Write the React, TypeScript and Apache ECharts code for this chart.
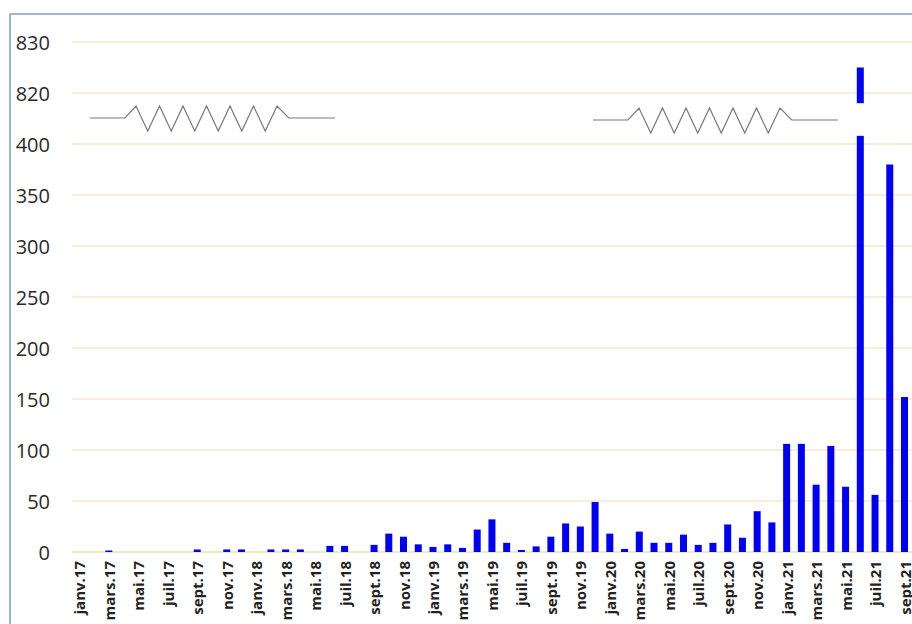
import React, { useEffect, useRef } from "react";
import * as echarts from "echarts";

const categories = [
  "janv.17", "févr.17", "mars.17", "avr.17", "mai.17", "juin.17", "juil.17", "août.17", "sept.17", "oct.17", "nov.17", "déc.17",
  "janv.18", "févr.18", "mars.18", "avr.18", "mai.18", "juin.18", "juil.18", "août.18", "sept.18", "oct.18", "nov.18", "déc.18",
  "janv.19", "févr.19", "mars.19", "avr.19", "mai.19", "juin.19", "juil.19", "août.19", "sept.19", "oct.19", "nov.19", "déc.19",
  "janv.20", "févr.20", "mars.20", "avr.20", "mai.20", "juin.20", "juil.20", "août.20", "sept.20", "oct.20", "nov.20", "déc.20",
  "janv.21", "févr.21", "mars.21", "avr.21", "mai.21", "juin.21", "juil.21", "août.21", "sept.21",
];

const values = [
  0, 0, 1.5, 0, 0, 0, 0, 0, 2.5, 0, 2.5, 2.5,
  0, 2.5, 2.5, 2.5, 0, 6, 6, 0, 7, 18, 15, 7.5,
  5, 7.5, 4, 22, 32, 9, 2, 5.5, 15, 28, 25, 49,
  18, 3, 20, 9, 9, 17, 7, 9, 27, 14, 40, 29,
  106, 106, 66, 104, 64, 825, 56, 380, 152,
];

const tickValues = [0, 50, 100, 150, 200, 250, 300, 350, 400, 820, 830];

// axis break: 400 -> 820 collapsed into one interval
const BREAK_LOW = 400;
const BREAK_HIGH = 820;
const toAxis = (v: number) => (v <= BREAK_LOW ? v : BREAK_LOW + 50 + (v - BREAK_HIGH) * 5);

function zigzag(x0: number, y: number): number[][] {
  const pts: number[][] = [[x0, y], [x0 + 35, y]];
  let x = x0 + 46;
  for (let i = 0; i < 13; i++) {
    pts.push([x, i % 2 === 0 ? y - 12 : y + 13]);
    x += 11.75;
  }
  pts.push([x, y]);
  pts.push([x0 + 245, y]);
  return pts;
}

export default function App() {
  const ref = useRef<HTMLDivElement>(null);
  useEffect(() => {
    document.body.style.margin = "0";
    const chart = echarts.init(ref.current!, null, { renderer: "svg" });
    const axisMax = toAxis(830);
    chart.setOption({
      animation: false,
      backgroundColor: "#ffffff",
      grid: { left: 72, right: 0, top: 42, bottom: 72 },
      xAxis: {
        type: "category",
        data: categories,
        axisTick: { show: false },
        axisLine: { lineStyle: { color: "#e6ecbc", width: 1.5 } },
        axisLabel: {
          interval: 1,
          rotate: 90,
          margin: 9,
          fontSize: 15,
          fontWeight: "bold",
          color: "#222",
          fontFamily: "Open Sans",
        },
      },
      yAxis: {
        type: "value",
        min: 0,
        max: axisMax,
        interval: 50,
        axisLine: { show: false },
        axisTick: { show: false },
        splitLine: { lineStyle: { color: "#fce4c8", width: 1.5 } },
        axisLabel: {
          margin: 22,
          fontSize: 20,
          color: "#2a2a2a",
          fontFamily: "Open Sans",
          formatter: (v: number) => {
            if (v <= BREAK_LOW) return String(v);
            const idx = Math.round((v - BREAK_LOW) / 50);
            return String(tickValues[8 + idx]);
          },
        },
      },
      series: [
        {
          type: "bar",
          data: values.map(toAxis),
          barWidth: 7,
          itemStyle: { color: "#0000f5" },
        },
      ],
    });

    const breakIdx = values.findIndex((v) => v > BREAK_LOW);
    const bx = chart.convertToPixel({ xAxisIndex: 0 }, breakIdx) as number;
    const yTop = chart.convertToPixel({ yAxisIndex: 0 }, 440) as number;
    const yBot = chart.convertToPixel({ yAxisIndex: 0 }, 408) as number;

    chart.setOption({
      graphic: [
        {
          type: "rect",
          z: 100,
          shape: { x: bx - 8, y: yTop, width: 16, height: yBot - yTop },
          style: { fill: "#ffffff" },
        },
        {
          type: "polyline",
          z: 100,
          shape: { points: zigzag(90, 118) },
          style: { stroke: "#7a7a7a", lineWidth: 1.2, fill: null },
        },
        {
          type: "polyline",
          z: 100,
          shape: { points: zigzag(593, 120) },
          style: { stroke: "#7a7a7a", lineWidth: 1.2, fill: null },
        },
        {
          type: "line",
          z: 100,
          shape: { x1: 10, y1: 14, x2: 912, y2: 14 },
          style: { stroke: "#7a9cc8", lineWidth: 1.5 },
        },
        {
          type: "line",
          z: 100,
          shape: { x1: 10, y1: 14, x2: 10, y2: 624 },
          style: { stroke: "#7a9cc8", lineWidth: 1.5 },
        },
      ],
    });
    return () => chart.dispose();
  }, []);
  return <div ref={ref} style={{ width: 912, height: 624 }} />;
}
